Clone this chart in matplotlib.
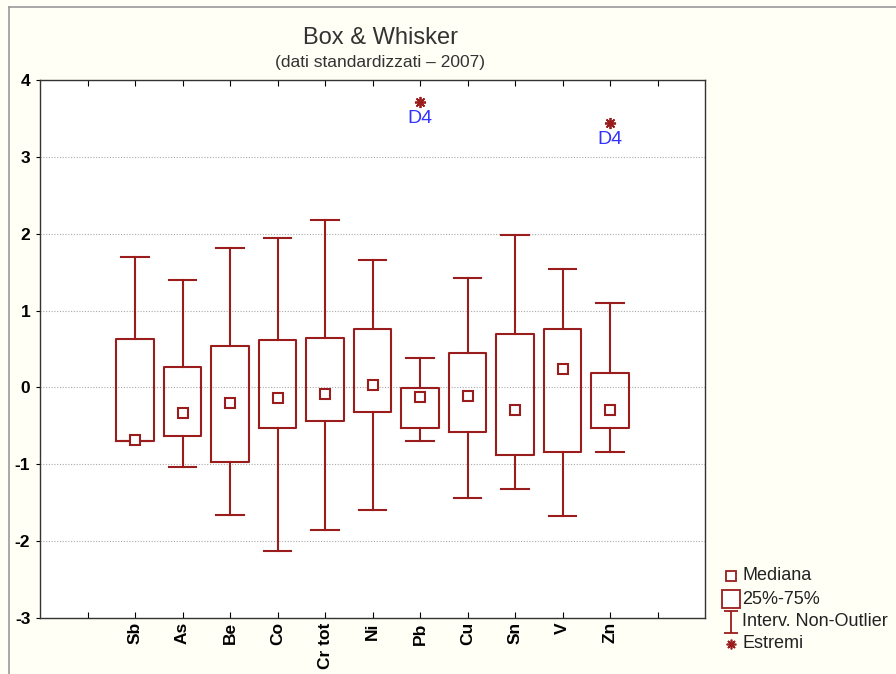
import matplotlib
matplotlib.use("Agg")
import matplotlib.pyplot as plt
from matplotlib.lines import Line2D
from matplotlib.path import Path
import numpy as np

categories = ["Sb", "As", "Be", "Co", "Cr tot", "Ni", "Pb", "Cu", "Sn", "V", "Zn"]
whisker_low = [-0.70, -1.04, -1.66, -2.13, -1.86, -1.60, -0.70, -1.44, -1.32, -1.67, -0.84]
q1 = [-0.70, -0.63, -0.97, -0.53, -0.44, -0.32, -0.53, -0.58, -0.88, -0.84, -0.53]
medians = [-0.68, -0.33, -0.20, -0.14, -0.09, 0.03, -0.12, -0.11, -0.29, 0.24, -0.29]
q3 = [0.63, 0.27, 0.54, 0.62, 0.64, 0.76, -0.01, 0.45, 0.70, 0.76, 0.19]
whisker_high = [1.70, 1.40, 1.81, 1.94, 2.18, 1.66, 0.38, 1.42, 1.98, 1.54, 1.10]
extremes = {"Pb": [3.71], "Zn": [3.44]}
extreme_label = "D4"
y_ticks = [-3, -2, -1, 0, 1, 2, 3, 4]
legend_labels = ["Mediana", "25%-75%", "Interv. Non-Outlier", "Estremi"]

RED = "#9b1c1c"
BG = "#fffff6"
FONT = ["Liberation Sans", "DejaVu Sans"]
plt.rcParams["font.family"] = FONT

fig = plt.figure(figsize=(8.96, 6.74), dpi=100, facecolor=BG)
ax = fig.add_axes([40/896, 1-618/674, (705-40)/896, (618-80)/674])
ax.set_facecolor("white")

positions = list(range(2, 2 + len(categories)))
stats = []
for i, c in enumerate(categories):
    stats.append(dict(med=medians[i], q1=q1[i], q3=q3[i], whislo=whisker_low[i],
                      whishi=whisker_high[i], mean=medians[i],
                      fliers=extremes.get(c, []), label=c))

ax.bxp(stats, positions=positions, widths=0.78, showmeans=True, showfliers=True,
       boxprops=dict(color=RED, linewidth=1.5),
       whiskerprops=dict(color=RED, linewidth=1.5),
       capprops=dict(color=RED, linewidth=1.5),
       capwidths=0.58,
       medianprops=dict(visible=False),
       meanprops=dict(marker="s", markersize=6.5, markerfacecolor="white",
                      markeredgecolor=RED, markeredgewidth=1.5, linestyle="none"),
       flierprops=dict(marker=(8, 2, 0), markersize=8, markeredgecolor=RED,
                       markerfacecolor=RED, markeredgewidth=1.3, linestyle="none"))

for c, vals in extremes.items():
    p = positions[categories.index(c)]
    for v in vals:
        ax.text(p, v - 0.1, extreme_label, color="#3333ff", fontsize=14,
                ha="center", va="top")

ax.set_xlim(0, 14)
ax.set_ylim(-3, 4)
ax.set_xticks(list(range(1, 14)))
ax.set_xticklabels([""] + categories + [""], rotation=90, fontweight="bold", fontsize=12.5)
ax.set_yticks(y_ticks)
ax.set_yticklabels([str(t) for t in y_ticks], fontweight="bold", fontsize=12.5)
ax.tick_params(axis="x", direction="in", length=4, top=True, bottom=True, pad=3)
ax.tick_params(axis="y", direction="out", length=3, pad=4)
ax.yaxis.grid(True, linestyle=(0, (1, 1.5)), color="#aaaaaa", linewidth=0.8)
ax.set_axisbelow(True)
for s in ax.spines.values():
    s.set_color("#333333")
    s.set_linewidth(1.0)

fig.text(380/896, 1-38/674, "Box & Whisker", ha="center", va="center",
         fontsize=17, color="#333333")
fig.text(380/896, 1-63/674, "(dati standardizzati \u2013 2007)", ha="center",
         va="center", fontsize=12.5, color="#333333")

# figure frame (left and top)
fig.add_artist(Line2D([9/896, 9/896], [0, 1-7/674], transform=fig.transFigure,
                      color="#999999", linewidth=1.2))
fig.add_artist(Line2D([9/896, 1], [1-7/674, 1-7/674], transform=fig.transFigure,
                      color="#999999", linewidth=1.2))

# legend (drawn manually to match spacing)
ibar = Path([(-0.6, 1), (0.6, 1), (0, 1), (0, -1), (-0.6, -1), (0.6, -1)],
            [Path.MOVETO, Path.LINETO, Path.MOVETO, Path.LINETO, Path.MOVETO, Path.LINETO])
leg_markers = [
    dict(marker="s", markersize=6.5, markerfacecolor="white", markeredgecolor=RED, markeredgewidth=1.3),
    dict(marker="s", markersize=12.5, markerfacecolor="white", markeredgecolor=RED, markeredgewidth=1.3),
    dict(marker=ibar, markersize=16, markeredgecolor=RED, markeredgewidth=1.3),
    dict(marker=(8, 2, 0), markersize=7, markeredgecolor=RED, markerfacecolor=RED, markeredgewidth=1.2),
]
leg_y = [576, 599, 622, 644]
for props, lab, yy in zip(leg_markers, legend_labels, leg_y):
    fig.add_artist(Line2D([731/896], [1-yy/674], transform=fig.transFigure,
                          linestyle="none", **props))
    fig.text(742/896, 1-yy/674, lab, ha="left", va="center", fontsize=13, color="#222222")

fig.savefig("out.png", dpi=100, facecolor=BG)
